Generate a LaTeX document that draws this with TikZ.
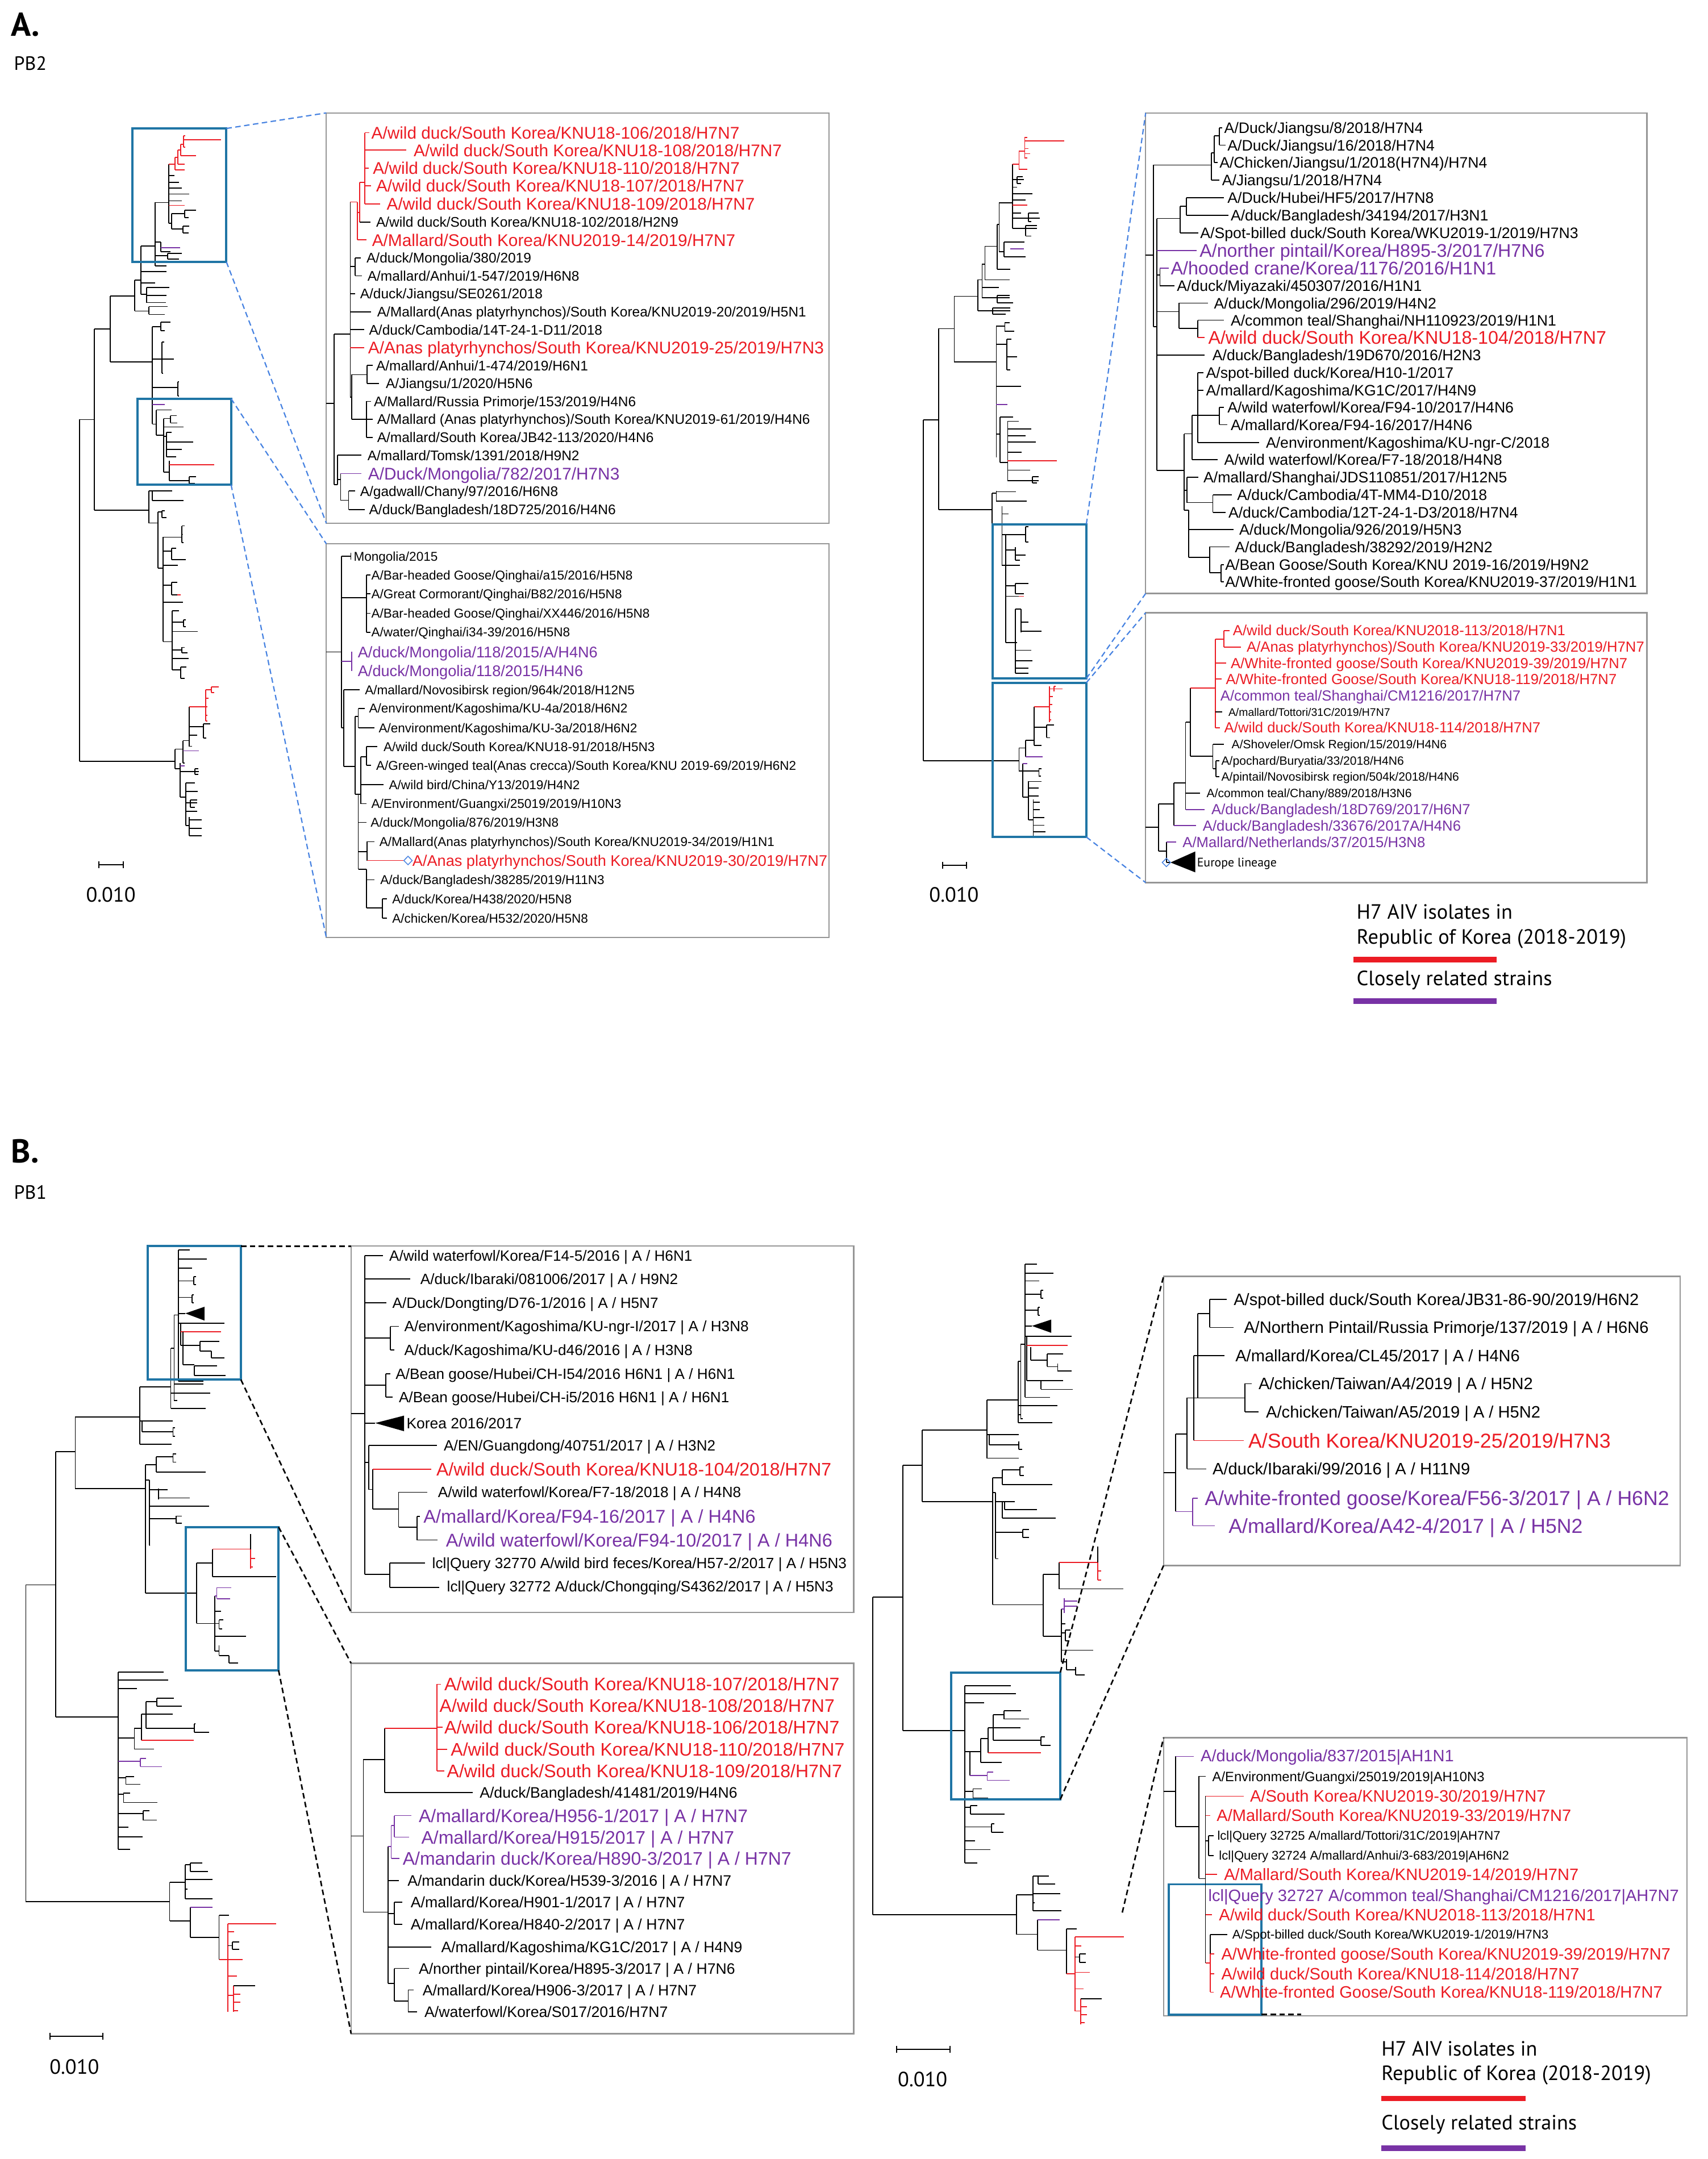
\documentclass[tikz,border=0pt]{standalone}
\usepackage{fontspec}
\setmainfont{Liberation Sans}
\newfontfamily\myr{PT Sans}
\definecolor{kred}{RGB}{236,28,36}
\definecolor{kpur}{RGB}{120,50,165}
\definecolor{kblue}{RGB}{31,117,165}
\definecolor{kdash}{RGB}{70,130,225}
\definecolor{kgray}{RGB}{150,150,150}
\tikzset{
 tl/.style={line width=0.75pt},
 lb/.style={anchor=west,inner sep=0pt,font=\fontsize{#1}{#1}\selectfont,text height=0.72*#1pt,text depth=0pt},
 mf/.style={inner sep=0pt,font=\myr\fontsize{#1}{#1}\selectfont},
 ibox/.style={draw=kgray,line width=0.9pt},
 bbox/.style={draw=kblue,line width=1.6pt},
 bdash/.style={draw=kdash,line width=0.9pt,dash pattern=on 4pt off 2.5pt},
 kdsh/.style={draw=black,line width=1.1pt,dash pattern=on 4pt off 2.5pt},
}
\newcommand\Nd[5][black]{\draw[tl,#1] (#2,#3) -- (#2,#4);\foreach \yy/\xe in {#5}{\draw[tl,#1] (#2,\yy) -- (\xe,\yy);}}
\newcommand\Hl[4][black]{\draw[tl,#1] (#3,#2) -- (#4,#2);}
\newcommand\Vl[4][black]{\draw[tl,#1] (#2,#3) -- (#2,#4);}
\begin{document}
\begin{tikzpicture}[x=1pt,y=-1pt]
\fill[white] (0,0) rectangle (1240,1568);
\useasboundingbox (0,0) rectangle (1240,1568);

% ---------------- headings ----------------
\node[mf=24,anchor=west,font=\myr\bfseries\fontsize{24}{24}\selectfont] (hA) at (8,18) {A.};
\node[mf=14,anchor=west] (hPB2) at (10,46) {PB2};
\node[mf=24,anchor=west,font=\myr\bfseries\fontsize{24}{24}\selectfont] (hB) at (8,836) {B.};
\node[mf=14,anchor=west] (hPB1) at (10,866) {PB1};

% ================= PANEL A LEFT TREE =================
\begin{scope}[shift={(0,24.76)},xscale=0.13755,yscale=0.41051]
\Nd{420}{682}{1287}{682/497,1287/925}
\Nd{497}{522}{842}{522/582,842/785}
\Nd{582}{463}{580}{463/710,580/805}
\Nd{710}{435}{490}{435/745,490/785}
\Nd{745}{375}{460}{375/820,420/880,440/820,460/775}
\Nd{775}{448}{475}{448/895,462/880,475/875}
\Nd{785}{482}{496}{482/885,496/870}
\Nd{820}{298}{410}{298/890,368/850,392/885,410/880}
\Nd{890}{230}{335}{250/920,262/945,272/960,283/1000,295/960,335/905}
\Hl[kred]{230}{890}{925}
\Hl[kred]{303}{890}{975}
\Nd{905}{318}{345}{318/975,345/965}
\Nd{975}{312}{325}{312/1035,325/995}
\Nd{965}{340}{352}{340/1000,352/995}
\Nd[kred]{925}{218}{240}{218/940,240/975}
\Nd[kred]{940}{205}{230}{205/955,230/975}
\Nd[kred]{955}{195}{215}{195/968,215/1035}
\Nd[kred]{968}{180}{200}{187/1168,180/978,200/978}
\Nd{850}{368}{385}{385/900}
\Hl[kpur]{378}{850}{950}
\Nd{885}{388}{398}{388/960,398/945}
\Nd{805}{518}{690}{518/850,575/855,625/940,690/825}
\Hl[kpur]{655}{805}{870}
\Nd{850}{510}{525}{510/900,525/870}
\Nd{855}{545}{600}{545/868,575/918,600/862}
\Nd{940}{615}{640}{615/946,640/946}
\Nd{825}{665}{710}{665/905,710/865}
\Nd{865}{680}{775}{680/900,695/970,712/880,775/895}
\Nd{900}{675}{688}{675/932,688/935}
\Nd{880}{705}{748}{705/905,722/1020,735/960,748/930}
\Nd{895}{755}{790}{790/1000}
\Hl[kred]{762}{895}{1130}
\Nd{1000}{783}{795}{783/1035,795/1030}
\Nd{785}{808}{865}{808/805,865/835}
\Nd{805}{808}{825}{808/910,825/970}
\Nd{835}{845}{945}{845/855,945/860}
\Nd{855}{843}{855}{843/870,855/880}
\Nd{860}{890}{1075}{890/960,915/905,940/940,975/905,1005/965,1075/910}
\Nd{960}{870}{900}{870/975,885/965,900/970}
\Nd{905}{910}{930}{910/930,930/980}
\Nd{905}{970}{992}{970/935,992/935}
\Hl[kred]{992}{935}{955}
\Nd{910}{1020}{1125}{1020/945,1040/970,1057/1045,1090/960,1105/995,1125/955}
\Nd{970}{1036}{1048}{1036/980,1048/980}
\Nd{960}{1085}{1095}{1085/975,1095/990}
\Nd{955}{1120}{1140}{1120/985,1140/975}
\Nd{925}{1265}{1300}{1265/965,1300/950}
\Nd{965}{1250}{1290}{1250/1000,1290/975}
\Hl[kpur]{1268}{965}{1050}
\Nd{1000}{1190}{1260}{1225/1075,1240/1040,1260/1015}
\Hl[kred]{1190}{1000}{1085}
\Nd[kred]{1085}{1160}{1215}{1160/1115,1175/1100,1190/1095,1205/1095,1215/1095}
\Nd[kred]{1115}{1155}{1165}{1155/1155,1165/1130}
\Nd{1075}{1220}{1245}{1220/1110,1245/1090}
\Nd{950}{1290}{1350}{1305/1050,1350/980}
\Hl[kpur]{1295}{950}{975}
\Nd{1030}{1300}{1310}{1300/1048,1310/1048}
\Nd{980}{1325}{1400}{1325/1030,1340/1045,1360/1040,1375/1040,1400/1000}
\Nd{1000}{1385}{1418}{1390/1065,1405/1065,1418/1065}
\Nd{1005}{1355}{1368}{1355/1040,1368/1030}
\end{scope}

% ================= PANEL A RIGHT TREE =================
\begin{scope}[shift={(618.97,74.28)},xscale=0.13755,yscale=0.37369]
\Nd{375}{617}{1280}{617/455,1280/880}
\Nd{455}{440}{792}{440/538,792/738}
\Nd{538}{377}{505}{377/662,505/760}
\Nd{662}{345}{405}{345/685,405/835}
\Nd{685}{315}{380}{315/700,360/775,380/830}
\Nd{700}{280}{345}{280/765,345/830}
\Nd{765}{237}{325}{237/775,325/835}
\Nd{775}{195}{290}{195/845,290/800}
\Nd{845}{120}{245}{150/905,165/870,178/950,190/915,215/890,225/990,245/975}
\Hl[kred]{120}{845}{880}
\Hl[kred]{200}{845}{925}
\Nd[kred]{880}{95}{130}{95/910,130/925}
\Nd[kred]{910}{68}{108}{75/1120,68/925,90/930,100/940,108/925}
\Nd{870}{145}{158}{145/900,158/890}
\Nd{930}{215}{232}{215/985,232/945}
\Nd{915}{240}{260}{240/975,260/945}
\Nd{800}{272}{300}{272/910,300/915}
\Hl[kpur]{285}{835}{905}
\Nd{765}{375}{390}{375/830,390/850}
\Nd{740}{400}{412}{400/835,412/810}
\Nd{760}{435}{690}{435/805,470/815,552/890,645/780}
\Hl[kpur]{587}{760}{820}
\Nd{805}{428}{445}{428/830,445/855}
\Nd{815}{460}{520}{460/840,495/870,520/835}
\Nd{780}{612}{700}{612/850,700/820}
\Nd{820}{620}{735}{620/880,635/945,648/915,660/970,680/895,715/940,735/985}
\Hl[kred]{697}{820}{1080}
\Nd{950}{728}{740}{728/985,740/975}
\Nd{738}{760}{820}{760/760,820/790}
\Nd{760}{755}{775}{757/865,775/920}
\Nd{790}{785}{900}{800/825,840/810,900/810}
\Nd{810}{840}{1050}{840/915,870/860,900/885,940/860,960/895,1050/860}
\Hl[kred]{960}{880}{905}
\Nd{915}{825}{855}{825/930,855/930}
\Nd{860}{865}{890}{880/915,890/885}
\Nd{860}{935}{955}{935/930,955/905}
\Nd{860}{985}{1110}{985/890,1050/870,1065/945,1085/950,1100/930,1110/930}
\Nd{890}{985}{1030}{1010/930,1028/1000}
\Nd{880}{1255}{1300}{1255/915,1300/900}
\Nd{915}{1240}{1272}{1240/960}
\Hl[kpur]{1272}{915}{1005}
\Nd{960}{1175}{1250}{1215/1025,1250/1000}
\Hl[kred]{1175}{960}{1040}
\Nd[kred]{1040}{1135}{1205}{1140/1065,1155/1060,1170/1055,1185/1050,1200/1050}
\Nd[kred]{1065}{1135}{1145}{1140/1110,1135/1075}
\Nd{1025}{1210}{1235}{1210/1065,1235/1045}
\Nd{900}{1285}{1350}{1300/985,1350/930}
\Hl[kpur]{1285}{900}{925}
\Nd{985}{1295}{1310}{1295/1000,1310/995}
\Nd{930}{1320}{1395}{1320/1000,1333/985,1348/985,1395/955}
\Nd{955}{1355}{1425}{1360/990,1375/990,1390/1015,1405/1015,1418/1020}
\end{scope}

% ---- Panel A boxes, insets, connectors
\draw[bbox] (96.3,93.3) rectangle (164.4,190.2);
\draw[bbox] (99.7,289.5) rectangle (167.8,352);
\draw[bbox] (720.8,380.7) rectangle (788.9,492.8);
\draw[bbox] (720.8,495.8) rectangle (788.9,607.9);
\coordinate (a1ne) at (164.4,93.3);  \coordinate (a1se) at (164.4,190.2);
\coordinate (a2ne) at (167.8,289.5); \coordinate (a2se) at (167.8,352);
\coordinate (a3ne) at (788.9,380.7); \coordinate (a3se) at (788.9,492.8);
\coordinate (a4ne) at (788.9,495.8); \coordinate (a4se) at (788.9,607.9);
\draw[ibox] (237,82) rectangle (602,380);
\draw[ibox] (237,395) rectangle (602,681);
\draw[ibox] (832,82) rectangle (1196,431);
\draw[ibox] (832,445) rectangle (1196,641);
\coordinate (i1nw) at (237,82);  \coordinate (i1sw) at (237,380);
\coordinate (i2nw) at (237,395); \coordinate (i2sw) at (237,681);
\coordinate (i3nw) at (832,82);  \coordinate (i3sw) at (832,431);
\coordinate (i4nw) at (832,445); \coordinate (i4sw) at (832,641);
\draw[bdash] (a1ne) -- (i1nw);
\draw[bdash] (a1se) -- (i1sw);
\draw[bdash] (a2ne) -- (i2nw);
\draw[bdash] (a2se) -- (i2sw);
\draw[bdash] (a3ne) -- (i3nw);
\draw[bdash] (a3se) -- (i3sw);
\draw[bdash] (a4ne) -- (i4nw);
\draw[bdash] (a4se) -- (i4sw);

% ---- Inset 1
\begin{scope}[shift={(236.86,82.12)},xscale=0.23315,yscale=0.19001]
\Hl{1110}{0}{25}
\Nd{25}{845}{1420}{845/75,1420/35}
\Nd{75}{340}{1085}{587/90,690/90,760/140,828/118,1085/80}
\Hl[kred]{897}{75}{118}
\Hl[kred]{340}{75}{97}
\Nd[kred]{97}{340}{485}{380/105,485/125}
\Nd[kred]{105}{265}{417}{265/120}
\Hl{417}{105}{138}
\Nd[kred]{120}{75}{347}{75/135,142/250,210/132,278/140,347/168}
\Nd{90}{553}{622}{553/108,622/112}
\Nd{80}{1000}{1170}{1000/128,1170/125}
\Nd{128}{965}{1033}{965/145,1033/165}
\Nd{125}{1102}{1240}{1102/140,1170/145,1240/145}
\Nd{35}{1308}{1420}{1308/110,1400/45}
\Nd{45}{1378}{1480}{1480/70}
\Hl[kpur]{1378}{45}{110}
\Nd{70}{1445}{1515}{1445/90,1515/120}
\node[lb=12.3,kred] (i1l1) at (140,75) {A/wild duck/South Korea/KNU18-106/2018/H7N7};
\node[lb=12.3,kred] (i1l2) at (272,142) {A/wild duck/South Korea/KNU18-108/2018/H7N7};
\node[lb=12.3,kred] (i1l3) at (145,210) {A/wild duck/South Korea/KNU18-110/2018/H7N7};
\node[lb=12.3,kred] (i1l4) at (155,278) {A/wild duck/South Korea/KNU18-107/2018/H7N7};
\node[lb=12.3,kred] (i1l5) at (188,347) {A/wild duck/South Korea/KNU18-109/2018/H7N7};
\node[lb=10.1] (i1l6) at (155,417) {A/wild duck/South Korea/KNU18-102/2018/H2N9};
\node[lb=12.3,kred] (i1l7) at (142,485) {A/Mallard/South Korea/KNU2019-14/2019/H7N7};
\node[lb=10.1] (i1l8) at (125,553) {A/duck/Mongolia/380/2019};
\node[lb=10.1] (i1l9) at (128,622) {A/mallard/Anhui/1-547/2019/H6N8};
\node[lb=10.1] (i1l10) at (105,690) {A/duck/Jiangsu/SE0261/2018};
\node[lb=10.1] (i1l11) at (158,760) {A/Mallard(Anas platyrhynchos)/South Korea/KNU2019-20/2019/H5N1};
\node[lb=10.1] (i1l12) at (133,828) {A/duck/Cambodia/14T-24-1-D11/2018};
\node[lb=12.3,kred] (i1l13) at (130,897) {A/Anas platyrhynchos/South Korea/KNU2019-25/2019/H7N3};
\node[lb=10.1] (i1l14) at (155,965) {A/mallard/Anhui/1-474/2019/H6N1};
\node[lb=10.1] (i1l15) at (185,1033) {A/Jiangsu/1/2020/H5N6};
\node[lb=10.1] (i1l16) at (148,1102) {A/Mallard/Russia Primorje/153/2019/H4N6};
\node[lb=10.1] (i1l17) at (158,1170) {A/Mallard (Anas platyrhynchos)/South Korea/KNU2019-61/2019/H4N6};
\node[lb=10.1] (i1l18) at (158,1240) {A/mallard/South Korea/JB42-113/2020/H4N6};
\node[lb=10.1] (i1l19) at (128,1308) {A/mallard/Tomsk/1391/2018/H9N2};
\node[lb=12.3,kpur] (i1l20) at (130,1378) {A/Duck/Mongolia/782/2017/H7N3};
\node[lb=10.1] (i1l21) at (105,1445) {A/gadwall/Chany/97/2016/H6N8};
\node[lb=10.1] (i1l22) at (133,1515) {A/duck/Bangladesh/18D725/2016/H4N6};
\end{scope}

% ---- Inset 2
\begin{scope}[shift={(236.86,394.9)},xscale=0.23315,yscale=0.18185]
\Hl{432}{0}{48}
\Nd{48}{50}{735}{50/77,215/125,735/55}
\Vl{77}{36}{64}
\Hl[kpur]{470}{48}{80}
\Vl[kpur]{80}{432}{508}
\Nd{125}{125}{353}{125/138,200/138,278/138,353/138}
\Nd{55}{583}{890}{583/105,890/90}
\Nd{90}{690}{1000}{690/100,1000/100}
\Nd{100}{657}{735}{657/120,735/150}
\Nd{108}{850}{1038}{850/125,962/178,1038/125}
\Nd{125}{810}{885}{810/160,885/140}
\Nd{100}{1000}{1300}{1113/125,1230/128,1300/125}
\Hl{1000}{100}{108}
\Nd{128}{1190}{1265}{1190/150}
\Hl[kred]{1265}{128}{242}
\draw[kdash,line width=0.6pt] (242,1265) -- (255,1248) -- (268,1265) -- (255,1282) -- cycle;
\Nd{125}{1300}{1455}{1342/150,1455/175}
\Nd{175}{1418}{1495}{1418/190,1495/190}
\node[lb=9.3] (i2l1) at (85,50) {Mongolia/2015};
\node[lb=9.3] (i2l2) at (140,125) {A/Bar-headed Goose/Qinghai/a15/2016/H5N8};
\node[lb=9.3] (i2l3) at (140,200) {A/Great Cormorant/Qinghai/B82/2016/H5N8};
\node[lb=9.3] (i2l4) at (140,278) {A/Bar-headed Goose/Qinghai/XX446/2016/H5N8};
\node[lb=9.3] (i2l5) at (140,353) {A/water/Qinghai/i34-39/2016/H5N8};
\node[lb=11.2,kpur] (i2l6) at (98,432) {A/duck/Mongolia/118/2015/A/H4N6};
\node[lb=11.2,kpur] (i2l7) at (98,508) {A/duck/Mongolia/118/2015/H4N6};
\node[lb=9.3] (i2l8) at (120,583) {A/mallard/Novosibirsk region/964k/2018/H12N5};
\node[lb=9.3] (i2l9) at (133,657) {A/environment/Kagoshima/KU-4a/2018/H6N2};
\node[lb=9.3] (i2l10) at (163,735) {A/environment/Kagoshima/KU-3a/2018/H6N2};
\node[lb=9.3] (i2l11) at (178,810) {A/wild duck/South Korea/KNU18-91/2018/H5N3};
\node[lb=9.3] (i2l12) at (155,885) {A/Green-winged teal(Anas crecca)/South Korea/KNU 2019-69/2019/H6N2};
\node[lb=9.3] (i2l13) at (195,962) {A/wild bird/China/Y13/2019/H4N2};
\node[lb=9.3] (i2l14) at (140,1038) {A/Environment/Guangxi/25019/2019/H10N3};
\node[lb=9.3] (i2l15) at (138,1113) {A/duck/Mongolia/876/2019/H3N8};
\node[lb=9.3] (i2l16) at (165,1190) {A/Mallard(Anas platyrhynchos)/South Korea/KNU2019-34/2019/H1N1};
\node[lb=11.2,kred] (i2l17) at (268,1265) {A/Anas platyrhynchos/South Korea/KNU2019-30/2019/H7N7};
\node[lb=9.3] (i2l18) at (168,1342) {A/duck/Bangladesh/38285/2019/H11N3};
\node[lb=9.3] (i2l19) at (205,1418) {A/duck/Korea/H438/2020/H5N8};
\node[lb=9.3] (i2l20) at (205,1495) {A/chicken/Korea/H532/2020/H5N8};
\end{scope}

% ---- Inset 3
\begin{scope}[shift={(831.9,82.12)},xscale=0.23263,yscale=0.22185]
\Hl{465}{0}{25}
\Nd{25}{170}{700}{170/205,700/35}
\Nd{205}{130}{220}{130/215,220/230}
\Nd{215}{75}{162}{75/230,162/225}
\Nd{230}{48}{105}{48/240,105/250}
\Nd{35}{345}{1170}{345/108,530/45,650/105,792/185,1170/120}
\Hl[kpur]{450}{35}{160}
\Nd{108}{305}{392}{305/128,392/165}
\Nd{128}{277}{335}{277/245,335/258}
\Nd{45}{507}{565}{565/90}
\Hl[kpur]{507}{45}{72}
\Nd{105}{622}{705}{622/195,705/163}
\Nd{163}{678}{735}{678/245}
\Hl[kred]{735}{163}{185}
\Nd{120}{1050}{1300}{1050/145,1235/130,1300/135}
\Nd{145}{990}{1135}{990/163,1135/225}
\Nd{163}{850}{1078}{850/180,907/180,990/230,1078/355}
\Nd{230}{963}{1020}{963/245,1020/255}
\Nd{130}{1192}{1275}{1192/165,1275/210}
\Nd{210}{1250}{1307}{1250/270,1307/250}
\Nd{135}{1300}{1455}{1363/275,1455/200}
\Nd{200}{1420}{1505}{1420/262,1505/235}
\Nd{235}{1478}{1535}{1478/245,1535/245}
\node[lb=11] (i3l1) at (245,48) {A/Duck/Jiangsu/8/2018/H7N4};
\node[lb=11] (i3l2) at (255,105) {A/Duck/Jiangsu/16/2018/H7N4};
\node[lb=11] (i3l3) at (230,162) {A/Chicken/Jiangsu/1/2018(H7N4)/H7N4};
\node[lb=11] (i3l4) at (238,220) {A/Jiangsu/1/2018/H7N4};
\node[lb=11] (i3l5) at (255,277) {A/Duck/Hubei/HF5/2017/H7N8};
\node[lb=11] (i3l6) at (265,335) {A/duck/Bangladesh/34194/2017/H3N1};
\node[lb=11] (i3l7) at (170,392) {A/Spot-billed duck/South Korea/WKU2019-1/2019/H7N3};
\node[lb=13.3,kpur] (i3l8) at (168,450) {A/norther pintail/Korea/H895-3/2017/H7N6};
\node[lb=13.3,kpur] (i3l9) at (78,507) {A/hooded crane/Korea/1176/2016/H1N1};
\node[lb=11] (i3l10) at (97,565) {A/duck/Miyazaki/450307/2016/H1N1};
\node[lb=11] (i3l11) at (213,622) {A/duck/Mongolia/296/2019/H4N2};
\node[lb=11] (i3l12) at (265,678) {A/common teal/Shanghai/NH110923/2019/H1N1};
\node[lb=13.3,kred] (i3l13) at (195,735) {A/wild duck/South Korea/KNU18-104/2018/H7N7};
\node[lb=11] (i3l14) at (208,792) {A/duck/Bangladesh/19D670/2016/H2N3};
\node[lb=11] (i3l15) at (188,850) {A/spot-billed duck/Korea/H10-1/2017};
\node[lb=11] (i3l16) at (188,907) {A/mallard/Kagoshima/KG1C/2017/H4N9};
\node[lb=11] (i3l17) at (255,963) {A/wild waterfowl/Korea/F94-10/2017/H4N6};
\node[lb=11] (i3l18) at (265,1020) {A/mallard/Korea/F94-16/2017/H4N6};
\node[lb=11] (i3l19) at (375,1078) {A/environment/Kagoshima/KU-ngr-C/2018};
\node[lb=11] (i3l20) at (245,1135) {A/wild waterfowl/Korea/F7-18/2018/H4N8};
\node[lb=11] (i3l21) at (180,1192) {A/mallard/Shanghai/JDS110851/2017/H12N5};
\node[lb=11] (i3l22) at (285,1250) {A/duck/Cambodia/4T-MM4-D10/2018};
\node[lb=11] (i3l23) at (258,1307) {A/duck/Cambodia/12T-24-1-D3/2018/H7N4};
\node[lb=11] (i3l24) at (292,1363) {A/duck/Mongolia/926/2019/H5N3};
\node[lb=11] (i3l25) at (278,1420) {A/duck/Bangladesh/38292/2019/H2N2};
\node[lb=11] (i3l26) at (248,1478) {A/Bean Goose/South Korea/KNU 2019-16/2019/H9N2};
\node[lb=11] (i3l27) at (248,1535) {A/White-fronted goose/South Korea/KNU2019-37/2019/H1N1};
\end{scope}

% ---- Inset 4
\begin{scope}[shift={(831.9,444.83)},xscale=0.23263,yscale=0.13755]
\Hl{1135}{0}{40}
\Nd{40}{1010}{1260}{1010/88,1260/65}
\Nd{88}{900}{1125}{900/125}
\Hl[kpur]{1125}{88}{158}
\Nd{125}{580}{1040}{580/140,955/170}
\Hl[kpur]{1040}{125}{185}
\Nd{140}{400}{760}{760/210}
\Hl[kred]{400}{140}{218}
\Nd[kred]{218}{140}{610}{140/245,268/252,352/238,608/232}
\Hl{525}{218}{240}
\Nd[kred]{245}{95}{182}{95/262,182/298}
\Nd{210}{695}{825}{695/245,825/220}
\Nd{220}{782}{868}{782/230,868/230}
\Nd{65}{1213}{1320}{1320/78}
\Hl[kpur]{1213}{65}{95}
\fill (78,1320) -- (155,1262) -- (155,1372) -- cycle;
\draw[kdash,line width=0.6pt] (52,1320) -- (65,1298) -- (78,1320) -- (65,1342) -- cycle;
\node[lb=10.6,kred] (i4l1) at (272,95) {A/wild duck/South Korea/KNU2018-113/2018/H7N1};
\node[lb=10.6,kred] (i4l2) at (315,182) {A/Anas platyrhynchos)/South Korea/KNU2019-33/2019/H7N7};
\node[lb=10.6,kred] (i4l3) at (265,268) {A/White-fronted goose/South Korea/KNU2019-39/2019/H7N7};
\node[lb=10.6,kred] (i4l4) at (250,352) {A/White-fronted Goose/South Korea/KNU18-119/2018/H7N7};
\node[lb=10.6,kpur] (i4l5) at (233,440) {A/common teal/Shanghai/CM1216/2017/H7N7};
\node[lb=8] (i4l6) at (258,525) {A/mallard/Tottori/31C/2019/H7N7};
\node[lb=10.6,kred] (i4l7) at (245,608) {A/wild duck/South Korea/KNU18-114/2018/H7N7};
\node[lb=8.7] (i4l8) at (268,695) {A/Shoveler/Omsk Region/15/2019/H4N6};
\node[lb=8.7] (i4l9) at (236,782) {A/pochard/Buryatia/33/2018/H4N6};
\node[lb=8.7] (i4l10) at (236,868) {A/pintail/Novosibirsk region/504k/2018/H4N6};
\node[lb=8.7] (i4l11) at (190,955) {A/common teal/Chany/889/2018/H3N6};
\node[lb=10.6,kpur] (i4l12) at (205,1040) {A/duck/Bangladesh/18D769/2017/H6N7};
\node[lb=10.6,kpur] (i4l13) at (178,1125) {A/duck/Bangladesh/33676/2017A/H4N6};
\node[lb=10.6,kpur] (i4l14) at (115,1213) {A/Mallard/Netherlands/37/2015/H3N8};
\node[mf=9,anchor=west] (i4l15) at (160,1325) {Europe lineage};
\end{scope}

% ---- Panel A scale bars and legend
\draw[line width=0.8pt] (71.8,628.2) -- (89.7,628.2);
\draw[line width=0.8pt] (71.8,625.7) -- (71.8,630.7) (89.7,625.7) -- (89.7,630.7);
\node[mf=15] (sA1) at (80.5,650) {0.010};
\draw[line width=0.8pt] (684.7,628.5) -- (701.9,628.5);
\draw[line width=0.8pt] (684.7,626) -- (684.7,631) (701.9,626) -- (701.9,631);
\node[mf=15] (sA2) at (692.8,650) {0.010};
\node[mf=15,anchor=west] (gA1) at (985,662) {H7 AIV isolates in};
\node[mf=15,anchor=west] (gA2) at (985,682) {Republic of Korea (2018-2019)};
\draw[kred,line width=4pt] (983,697) -- (1087,697);
\node[mf=15,anchor=west] (gA3) at (985,712) {Closely related strains};
\draw[kpur,line width=4pt] (983,727) -- (1087,727);

% ================= PANEL B LEFT TREE =================
\begin{scope}[shift={(0,883.06)},xscale=0.16316,yscale=0.4]
\Nd{115}{670}{1245}{670/248,1245/755}
\Nd{248}{428}{910}{428/335,910/527}
\Nd{335}{365}{495}{365/622,495/648}
\Nd{622}{310}{415}{310/760,372/632,415/765}
\Nd{632}{372}{392}{372/770,392/770}
\Nd{770}{385}{400}{385/778,400/778}
\Nd{760}{240}{350}{240/775,322/935,350/915}
\Nd{775}{180}{335}{180/795,305/905,335/790}
\Nd{795}{62}{300}{62/845,78/920,95/855,118/862,148/855,177/825,195/1000,300/905}
\fill (825,177) -- (910,165) -- (910,190) -- cycle;
\Nd{805}{195}{235}{235/815}
\Hl[kred]{210}{805}{985}
\Nd{815}{210}{270}{235/890,270/865}
\Nd{862}{110}{125}{110/872,125/872}
\Nd{855}{143}{158}{143/862,158/862}
\Nd{890}{228}{245}{228/975,245/940}
\Nd{940}{245}{258}{258/1000}
\Nd{865}{272}{290}{272/965,290/1005}
\Nd{648}{452}{685}{452/695,480/665,685/875}
\Nd{695}{437}{465}{437/770,465/915}
\Nd{770}{432}{447}{432/785,447/785}
\Nd{665}{480}{598}{497/705,527/930,550/785,598/668}
\Nd{705}{495}{515}{497/745,512/845}
\Nd{785}{545}{558}{545/810,558/810}
\Nd{875}{630}{740}{630/945,740/955}
\Nd{945}{605}{655}{655/1230}
\Hl[kred]{605}{945}{1115}
\Vl{1115}{578}{605}
\Nd[kred]{1115}{605}{640}{622/1135,637/1125}
\Nd{955}{690}{790}{718/985,740/975,763/1095,790/975}
\Hl[kpur]{690}{955}{965}
\Nd[kpur]{965}{675}{695}{675/1030,695/1025}
\Nd{975}{733}{750}{733/995,750/990}
\Nd{975}{780}{798}{798/1020}
\Nd{1020}{798}{812}{812/1060}
\Nd{527}{828}{1150}{828/728,843/748,858/610,948/598,1020/560,1050/550,1085/638,1110/572,1127/635,1150/580}
\Hl[kpur]{990}{527}{625}
\Nd{598}{930}{968}{930/630,968/685}
\Nd{630}{905}{952}{905/650}
\Hl[kred]{952}{630}{862}
\Nd{650}{882}{930}{882/698,905/770,930/865}
\Nd{698}{876}{890}{876/775,890/808}
\Nd{865}{922}{938}{922/870,938/930}
\Nd[kpur]{625}{985}{1000}{985/650,1000/722}
\Nd{560}{1018}{1032}{1018/598,1032/625}
\Nd{550}{1048}{1065}{1048/578,1065/700}
\Nd{638}{1080}{1097}{1080/665,1097/697}
\Nd{755}{1210}{1280}{1210/825,1280/848}
\Nd{825}{1178}{1240}{1178/848,1205/945,1222/835,1240/945}
\Nd{848}{1175}{1190}{1175/900,1190/925}
\Nd{848}{1255}{1310}{1310/975}
\Hl[kpur]{1255}{848}{945}
\Nd{975}{1270}{1350}{1270/1020}
\Hl[kred]{1350}{975}{1015}
\Nd[kred]{1015}{1285}{1445}{1285/1230,1300/1042,1350/1080,1380/1055,1415/1040}
\Hl{1325}{1015}{1035}
\Nd{1035}{1318}{1332}{1318/1065,1332/1065}
\Nd[kred]{1040}{1398}{1445}{1413/1070,1428/1070,1443/1060}
\Hl{1398}{1040}{1135}
\end{scope}

% ================= PANEL B RIGHT TREE =================
\begin{scope}[shift={(618.97,899.56)},xscale=0.14736,yscale=0.38422]
\Nd{100}{678}{1278}{678/248,1278/810}
\Nd{248}{428}{930}{428/345,930/555}
\Nd{345}{362}{497}{362/663,497/692}
\Nd{663}{305}{415}{305/818,370/675,415/820}
\Nd{675}{370}{390}{370/820,390/820}
\Nd{820}{383}{398}{398/838}
\Nd{818}{232}{348}{232/830,316/1010,333/830,348/985}
\Nd{830}{200}{340}{200/850,340/840}
\Nd{850}{48}{300}{48/910,65/992,80/920,105/930,135/915,165/885,185/1080,300/975}
\fill (885,165) -- (980,153) -- (980,178) -- cycle;
\Nd{860}{185}{268}{268/930}
\Hl[kred]{202}{860}{1060}
\Nd{878}{205}{230}{230/960}
\Nd{930}{98}{113}{98/940,113/940}
\Nd{915}{130}{145}{130/925,145/925}
\Nd{960}{218}{242}{218/1040,242/1012}
\Nd{1012}{236}{250}{250/1080}
\Nd{930}{268}{285}{268/1040,285/1085}
\Nd{692}{452}{692}{452/740,480/705,692/940}
\Nd{740}{437}{465}{437/825,465/985}
\Nd{825}{432}{448}{432/845,448/845}
\Nd{705}{480}{605}{497/740,555/840,605/720}
\Nd{740}{497}{528}{497/750,528/1002}
\Nd{750}{497}{512}{497/800,512/910}
\Nd{840}{550}{565}{550/870,565/870}
\Nd{940}{635}{752}{635/1018,752/1030}
\Nd{1018}{612}{662}{662/1335}
\Hl[kred]{612}{1018}{1210}
\Vl{1210}{582}{612}
\Nd[kred]{1210}{612}{645}{628/1225,645/1225}
\Nd{1030}{700}{800}{728/1050,745/1050,778/1188,800/1055}
\Hl[kpur]{700}{1030}{1045}
\Nd[kpur]{1045}{680}{708}{685/1110,695/1110}
\Nd{1050}{740}{760}{740/1075,760/1070}
\Nd{1055}{795}{815}{815/1100}
\Nd{1100}{810}{825}{825/1145}
\Nd{555}{845}{1180}{845/780,860/805,877/650,970/580,1045/595,1075/583,1112/685,1138/605,1155/680,1180/615}
\Nd{580}{970}{1015}{970/632}
\Hl[kpur]{1015}{580}{665}
\Nd{632}{945}{990}{945/668,990/735}
\Nd{668}{925}{972}{925/695}
\Hl[kred]{972}{668}{930}
\Nd{695}{900}{948}{900/748,925/828,948/930}
\Nd{748}{892}{908}{892/832,908/870}
\Nd{930}{942}{958}{942/950,958/978}
\Nd[kpur]{665}{1008}{1024}{1008/695,1024/775}
\Nd{595}{1040}{1058}{1040/638,1058/668}
\Nd{583}{1072}{1088}{1072/615,1088/750}
\Nd{685}{1106}{1122}{1106/700,1122/745}
\Nd{810}{1240}{1315}{1240/890,1315/912}
\Nd{890}{1205}{1270}{1205/915,1238/1025,1255/900,1270/1030}
\Nd{915}{1205}{1220}{1205/970,1220/1000}
\Nd{912}{1288}{1345}{1345/1055}
\Hl[kpur]{1288}{912}{1022}
\Nd{1055}{1305}{1390}{1305/1105}
\Hl[kred]{1390}{1055}{1098}
\Nd[kred]{1098}{1320}{1460}{1320/1338,1337/1128,1387/1170,1418/1140,1460/1125}
\Hl{1358}{1098}{1120}
\Nd{1120}{1352}{1368}{1352/1152,1368/1152}
\Nd[kred]{1125}{1437}{1485}{1452/1155,1467/1155,1482/1145}
\Hl{1437}{1125}{1230}
\end{scope}

% ---- Panel B boxes, insets, connectors
\draw[bbox] (107.2,905) rectangle (174.9,1001.9);
\draw[bbox] (134.9,1109) rectangle (202.3,1213);
\draw[bbox] (690.7,1214.6) rectangle (770,1306.8);
\coordinate (b1ne) at (174.9,905);   \coordinate (b1se) at (174.9,1001.9);
\coordinate (b2ne) at (202.3,1109);  \coordinate (b2se) at (202.3,1213);
\coordinate (b3ne) at (770,1214.6);  \coordinate (b3se) at (770,1306.8);
\coordinate (b4) at (815,1389);
\draw[ibox] (255,905) rectangle (620,1171);
\draw[ibox] (255,1208) rectangle (620,1477);
\draw[ibox] (845,927) rectangle (1220,1137);
\draw[ibox] (845,1262) rectangle (1225,1464);
\coordinate (i5nw) at (255,905);  \coordinate (i5sw) at (255,1171);
\coordinate (i6nw) at (255,1208); \coordinate (i6sw) at (255,1477);
\coordinate (i7nw) at (845,927);  \coordinate (i7sw) at (845,1137);
\coordinate (i8nw) at (845,1262);
\draw[bbox] (848.7,1368.5) rectangle (916.1,1463);
\coordinate (b5se) at (916.1,1463);
\coordinate (b5e) at (945,1463);
\draw[kdsh] (b1ne) -- (i5nw);
\draw[kdsh] (b1se) -- (i5sw);
\draw[kdsh] (b2ne) -- (i6nw);
\draw[kdsh] (b2se) -- (i6sw);
\draw[kdsh] (b3ne) -- (i7nw);
\draw[kdsh] (b3se) -- (i7sw);
\draw[kdsh] (b4) -- (i8nw);
\draw[kdsh] (b5se) -- (b5e);

% ---- Inset 5
\begin{scope}[shift={(255.01,904.93)},xscale=0.23288,yscale=0.16918]
\Hl{720}{0}{42}
\Nd{42}{42}{1410}{42/100,142/185,243/110,395/122,598/108,760/75,930/55,1410/120}
\Nd{122}{345}{447}{345/148,447/135}
\Nd{108}{548}{648}{548/122,648/130}
\fill (75,760) -- (165,728) -- (165,795) -- cycle;
\Nd{55}{855}{1045}{855/268,1045/68}
\Nd{68}{958}{1130}{1130/148}
\Hl[kred]{958}{68}{250}
\Nd{148}{1057}{1208}{1057/238,1208/205}
\Nd{205}{1160}{1262}{1160/215,1262/270}
\Nd{120}{1360}{1465}{1360/230,1465/275}
\node[lb=10.8] (i5l1) at (118,42) {A/wild waterfowl/Korea/F14-5/2016 | A / H6N1};
\node[lb=10.8] (i5l2) at (215,142) {A/duck/Ibaraki/081006/2017 | A / H9N2};
\node[lb=10.8] (i5l3) at (128,243) {A/Duck/Dongting/D76-1/2016 | A / H5N7};
\node[lb=10.8] (i5l4) at (165,345) {A/environment/Kagoshima/KU-ngr-I/2017 | A / H3N8};
\node[lb=10.8] (i5l5) at (165,447) {A/duck/Kagoshima/KU-d46/2016 | A / H3N8};
\node[lb=10.8] (i5l6) at (138,548) {A/Bean goose/Hubei/CH-I54/2016 H6N1 | A / H6N1};
\node[lb=10.8] (i5l7) at (148,648) {A/Bean goose/Hubei/CH-i5/2016 H6N1 | A / H6N1};
\node[lb=10.9] (i5l8) at (172,760) {Korea 2016/2017};
\node[lb=10.8] (i5l9) at (288,857) {A/EN/Guangdong/40751/2017 | A / H3N2};
\node[lb=13.2,kred] (i5l10) at (265,958) {A/wild duck/South Korea/KNU18-104/2018/H7N7};
\node[lb=10.8] (i5l11) at (270,1057) {A/wild waterfowl/Korea/F7-18/2018 | A / H4N8};
\node[lb=13.4,kpur] (i5l12) at (225,1160) {A/mallard/Korea/F94-16/2017 | A / H4N6};
\node[lb=13.4,kpur] (i5l13) at (295,1262) {A/wild waterfowl/Korea/F94-10/2017 | A / H4N6};
\node[lb=10.8] (i5l14) at (252,1362) {lcl|Query 32770 A/wild bird feces/Korea/H57-2/2017 | A / H5N3};
\node[lb=10.8] (i5l15) at (298,1462) {lcl|Query 32772 A/duck/Chongqing/S4362/2017 | A / H5N3};
\end{scope}

% ---- Inset 6
\begin{scope}[shift={(255.01,1208.22)},xscale=0.23288,yscale=0.17027]
\Hl{735}{0}{38}
\Nd{38}{410}{1060}{410/105,1060/115}
\Nd{105}{275}{550}{550/380}
\Hl[kred]{275}{105}{268}
\Nd[kred]{268}{88}{458}{88/280,272/285,365/300,458/290}
\Nd{115}{780}{1365}{925/148,1065/135,1208/250,1365/135}
\Hl[kpur]{780}{115}{125}
\Nd[kpur]{125}{690}{830}{690/135,830/150}
\Nd[kpur]{135}{648}{740}{648/188,740/180}
\Nd{135}{1018}{1112}{1018/160,1112/160}
\Nd{135}{1300}{1440}{1300/180,1440/178}
\Nd{178}{1392}{1485}{1392/195,1485/205}
\node[lb=13.2,kred] (i6l1) at (290,88) {A/wild duck/South Korea/KNU18-107/2018/H7N7};
\node[lb=13.2,kred] (i6l2) at (275,180) {A/wild duck/South Korea/KNU18-108/2018/H7N7};
\node[lb=13.2,kred] (i6l3) at (290,272) {A/wild duck/South Korea/KNU18-106/2018/H7N7};
\node[lb=13.2,kred] (i6l4) at (310,365) {A/wild duck/South Korea/KNU18-110/2018/H7N7};
\node[lb=13.2,kred] (i6l5) at (298,458) {A/wild duck/South Korea/KNU18-109/2018/H7N7};
\node[lb=11] (i6l6) at (400,550) {A/duck/Bangladesh/41481/2019/H4N6};
\node[lb=13.2,kpur] (i6l7) at (210,648) {A/mallard/Korea/H956-1/2017 | A / H7N7};
\node[lb=13.2,kpur] (i6l8) at (218,740) {A/mallard/Korea/H915/2017 | A / H7N7};
\node[lb=13.2,kpur] (i6l9) at (160,832) {A/mandarin duck/Korea/H890-3/2017 | A / H7N7};
\node[lb=11] (i6l10) at (175,925) {A/mandarin duck/Korea/H539-3/2016 | A / H7N7};
\node[lb=11] (i6l11) at (185,1018) {A/mallard/Korea/H901-1/2017 | A / H7N7};
\node[lb=11] (i6l12) at (185,1112) {A/mallard/Korea/H840-2/2017 | A / H7N7};
\node[lb=11] (i6l13) at (280,1208) {A/mallard/Kagoshima/KG1C/2017 | A / H4N9};
\node[lb=11] (i6l14) at (210,1300) {A/norther pintail/Korea/H895-3/2017 | A / H7N6};
\node[lb=11] (i6l15) at (222,1392) {A/mallard/Korea/H906-3/2017 | A / H7N7};
\node[lb=11] (i6l16) at (228,1485) {A/waterfowl/Korea/S017/2016/H7N7};
\end{scope}

% ---- Inset 7
\begin{scope}[shift={(845.1,925.14)},xscale=0.2471,yscale=0.13755]
\Hl{1050}{0}{35}
\Nd{35}{845}{1255}{845/68}
\Hl[kpur]{1255}{35}{85}
\Nd{68}{655}{1030}{655/100,1030/125}
\Nd{100}{210}{655}{210/135,655/238}
\Nd{88}{432}{880}{432/178}
\Hl[kred]{880}{88}{235}
\Nd{135}{135}{283}{135/185,283/205}
\Nd{238}{580}{728}{580/258,728/278}
\Nd[kpur]{85}{1185}{1330}{1185/100,1330/150}
\node[lb=12] (i7l1) at (205,135) {A/spot-billed duck/South Korea/JB31-86-90/2019/H6N2};
\node[lb=12] (i7l2) at (235,283) {A/Northern Pintail/Russia Primorje/137/2019 | A / H6N6};
\node[lb=12] (i7l3) at (210,432) {A/mallard/Korea/CL45/2017 | A / H4N6};
\node[lb=12] (i7l4) at (278,580) {A/chicken/Taiwan/A4/2019 | A / H5N2};
\node[lb=12] (i7l5) at (300,728) {A/chicken/Taiwan/A5/2019 | A / H5N2};
\node[lb=14.7,kred] (i7l6) at (248,880) {A/South Korea/KNU2019-25/2019/H7N3};
\node[lb=12] (i7l7) at (143,1030) {A/duck/Ibaraki/99/2016 | A / H11N9};
\node[lb=14.7,kpur] (i7l8) at (120,1185) {A/white-fronted goose/Korea/F56-3/2017 | A / H6N2};
\node[lb=14.7,kpur] (i7l9) at (190,1330) {A/mallard/Korea/A42-4/2017 | A / H5N2};
\end{scope}

% ---- Inset 8
\begin{scope}[shift={(845.09,1261.86)},xscale=0.24237,yscale=0.13755]
\Hl{285}{0}{35}
\Nd{35}{100}{470}{470/105}
\Hl[kpur]{100}{35}{90}
\Nd{105}{205}{745}{205/125,745/125}
\Nd{125}{310}{1190}{545/135}
\Hl[kred]{310}{125}{240}
\Hl[kred]{412}{125}{140}
\Hl[kred]{722}{125}{160}
\Hl[kred]{935}{125}{145}
\Hl[kred]{1190}{125}{140}
\Nd{135}{518}{623}{518/150,623/150}
\Nd{140}{1040}{1143}{1040/190}
\Nd[kred]{140}{1143}{1345}{1143/152,1248/152,1345/150}
\node[lb=9.8,kpur,font=\fontsize{12}{12}\selectfont] (i8l1) at (110,100) {A/duck/Mongolia/837/2015|AH1N1};
\node[lb=9.8] (i8l2) at (145,205) {A/Environment/Guangxi/25019/2019|AH10N3};
\node[lb=12,kred] (i8l3) at (258,310) {A/South Korea/KNU2019-30/2019/H7N7};
\node[lb=12,kred] (i8l4) at (158,412) {A/Mallard/South Korea/KNU2019-33/2019/H7N7};
\node[lb=9.1] (i8l5) at (160,518) {lcl|Query 32725 A/mallard/Tottori/31C/2019|AH7N7};
\node[lb=9.1] (i8l6) at (165,623) {lcl|Query 32724 A/mallard/Anhui/3-683/2019|AH6N2};
\node[lb=12,kred] (i8l7) at (180,722) {A/Mallard/South Korea/KNU2019-14/2019/H7N7};
\node[lb=12,kpur] (i8l8) at (133,835) {lcl|Query 32727 A/common teal/Shanghai/CM1216/2017|AH7N7};
\node[lb=12,kred] (i8l9) at (165,935) {A/wild duck/South Korea/KNU2018-113/2018/H7N1};
\node[lb=9.2] (i8l10) at (205,1040) {A/Spot-billed duck/South Korea/WKU2019-1/2019/H7N3};
\node[lb=12,kred] (i8l11) at (172,1143) {A/White-fronted goose/South Korea/KNU2019-39/2019/H7N7};
\node[lb=12,kred] (i8l12) at (172,1248) {A/wild duck/South Korea/KNU18-114/2018/H7N7};
\node[lb=12,kred] (i8l13) at (168,1345) {A/White-fronted Goose/South Korea/KNU18-119/2018/H7N7};
\end{scope}

% ---- Panel B scale bars and legend
\draw[line width=0.8pt] (36.2,1479) -- (74.7,1479);
\draw[line width=0.8pt] (36.2,1476.5) -- (36.2,1481.5) (74.7,1476.5) -- (74.7,1481.5);
\node[mf=15] (sB1) at (54,1501) {0.010};
\draw[line width=0.8pt] (651.1,1488.2) -- (690,1488.2);
\draw[line width=0.8pt] (651.1,1485.7) -- (651.1,1490.7) (690,1485.7) -- (690,1490.7);
\node[mf=15] (sB2) at (670,1510) {0.010};
\node[mf=15,anchor=west] (gB1) at (1003,1488) {H7 AIV isolates in};
\node[mf=15,anchor=west] (gB2) at (1003,1507) {Republic of Korea (2018-2019)};
\draw[kred,line width=4pt] (1003,1524) -- (1108,1524);
\node[mf=15,anchor=west] (gB3) at (1003,1543) {Closely related strains};
\draw[kpur,line width=4pt] (1003,1560) -- (1108,1560);
\end{tikzpicture}
\end{document}
